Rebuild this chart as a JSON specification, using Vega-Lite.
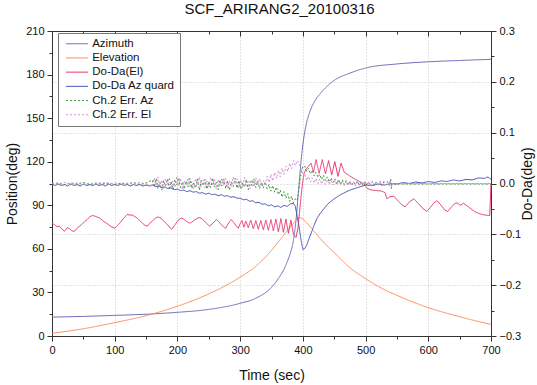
{
"$schema":"https://vega.github.io/schema/vega-lite/v6.json",
"width":439,"height":305,
"autosize":"none",
"padding":{"left":52,"top":31,"right":46,"bottom":49},
"title":{"text":"SCF_ARIRANG2_20100316","fontSize":15,"fontWeight":"normal","font":"Liberation Sans","color":"#111","offset":8,"dx":8},
"datasets":{
"az":[{"t":0,"v":13},{"t":50,"v":13.5},{"t":100,"v":14.2},{"t":150,"v":15},{"t":200,"v":16.3},{"t":250,"v":18.3},{"t":300,"v":22.5},{"t":325,"v":26},{"t":350,"v":33.5},{"t":360,"v":39},{"t":370,"v":46},{"t":375,"v":51},{"t":380,"v":57},{"t":385,"v":66},{"t":390,"v":84},{"t":393,"v":100},{"t":395,"v":110},{"t":398,"v":124},{"t":401,"v":135},{"t":405,"v":145},{"t":410,"v":153},{"t":415,"v":158.5},{"t":420,"v":162.5},{"t":430,"v":168},{"t":440,"v":172.5},{"t":450,"v":176},{"t":475,"v":181},{"t":500,"v":184.5},{"t":550,"v":187.3},{"t":600,"v":188.8},{"t":650,"v":189.7},{"t":700,"v":190.5}],
"el":[{"t":0,"v":1.8},{"t":50,"v":5},{"t":100,"v":9.2},{"t":150,"v":14},{"t":200,"v":20.5},{"t":250,"v":29},{"t":300,"v":40.5},{"t":325,"v":48},{"t":350,"v":59},{"t":365,"v":67},{"t":375,"v":72.5},{"t":385,"v":77.5},{"t":390,"v":80},{"t":395,"v":81.5},{"t":400,"v":80.5},{"t":410,"v":76},{"t":420,"v":71},{"t":430,"v":66},{"t":440,"v":61.5},{"t":450,"v":57.5},{"t":475,"v":47},{"t":500,"v":39.5},{"t":525,"v":33},{"t":550,"v":28},{"t":575,"v":23.5},{"t":600,"v":19.5},{"t":625,"v":16.2},{"t":650,"v":13.3},{"t":675,"v":10.5},{"t":700,"v":8}],
"dd":[{"t":0,"v":-0.078},{"t":4,"v":-0.081},{"t":8,"v":-0.085},{"t":12,"v":-0.084},{"t":16,"v":-0.09},{"t":20,"v":-0.094},{"t":24,"v":-0.087},{"t":28,"v":-0.089},{"t":32,"v":-0.093},{"t":36,"v":-0.094},{"t":40,"v":-0.088},{"t":44,"v":-0.084},{"t":48,"v":-0.08},{"t":52,"v":-0.075},{"t":56,"v":-0.071},{"t":60,"v":-0.066},{"t":64,"v":-0.063},{"t":68,"v":-0.064},{"t":72,"v":-0.066},{"t":76,"v":-0.068},{"t":80,"v":-0.072},{"t":84,"v":-0.076},{"t":88,"v":-0.079},{"t":92,"v":-0.083},{"t":96,"v":-0.086},{"t":100,"v":-0.088},{"t":104,"v":-0.083},{"t":108,"v":-0.078},{"t":112,"v":-0.072},{"t":116,"v":-0.066},{"t":120,"v":-0.061},{"t":124,"v":-0.062},{"t":128,"v":-0.062},{"t":132,"v":-0.065},{"t":136,"v":-0.068},{"t":140,"v":-0.073},{"t":144,"v":-0.078},{"t":148,"v":-0.082},{"t":152,"v":-0.084},{"t":156,"v":-0.078},{"t":160,"v":-0.074},{"t":164,"v":-0.069},{"t":168,"v":-0.066},{"t":172,"v":-0.067},{"t":176,"v":-0.071},{"t":180,"v":-0.076},{"t":184,"v":-0.081},{"t":188,"v":-0.087},{"t":191,"v":-0.09},{"t":195,"v":-0.083},{"t":199,"v":-0.076},{"t":203,"v":-0.07},{"t":207,"v":-0.068},{"t":211,"v":-0.071},{"t":215,"v":-0.075},{"t":219,"v":-0.078},{"t":223,"v":-0.076},{"t":227,"v":-0.072},{"t":231,"v":-0.069},{"t":235,"v":-0.067},{"t":239,"v":-0.069},{"t":243,"v":-0.074},{"t":247,"v":-0.079},{"t":251,"v":-0.084},{"t":255,"v":-0.08},{"t":259,"v":-0.075},{"t":262,"v":-0.071},{"t":266,"v":-0.075},{"t":270,"v":-0.081},{"t":274,"v":-0.086},{"t":277,"v":-0.088},{"t":280,"v":-0.081},{"t":283,"v":-0.075},{"t":286,"v":-0.071},{"t":290,"v":-0.077},{"t":294,"v":-0.084},{"t":297,"v":-0.088},{"t":300,"v":-0.079},{"t":303,"v":-0.073},{"t":306,"v":-0.086},{"t":309,"v":-0.074},{"t":313,"v":-0.087},{"t":317,"v":-0.072},{"t":321,"v":-0.089},{"t":325,"v":-0.073},{"t":329,"v":-0.09},{"t":333,"v":-0.073},{"t":337,"v":-0.091},{"t":341,"v":-0.072},{"t":345,"v":-0.092},{"t":349,"v":-0.071},{"t":353,"v":-0.093},{"t":357,"v":-0.07},{"t":361,"v":-0.095},{"t":365,"v":-0.069},{"t":369,"v":-0.096},{"t":373,"v":-0.07},{"t":377,"v":-0.098},{"t":381,"v":-0.072},{"t":385,"v":-0.1},{"t":389,"v":-0.106},{"t":392,"v":-0.09},{"t":394,"v":-0.065},{"t":396,"v":-0.04},{"t":398,"v":-0.015},{"t":400,"v":0.005},{"t":402,"v":0.02},{"t":405,"v":0.028},{"t":409,"v":0.034},{"t":413,"v":0.04},{"t":417,"v":0.022},{"t":421,"v":0.047},{"t":426,"v":0.02},{"t":431,"v":0.047},{"t":436,"v":0.019},{"t":441,"v":0.045},{"t":446,"v":0.017},{"t":451,"v":0.043},{"t":456,"v":0.014},{"t":461,"v":0.04},{"t":466,"v":0.022},{"t":471,"v":0.018},{"t":477,"v":0.013},{"t":483,"v":0.009},{"t":490,"v":0.004},{"t":497,"v":0.0},{"t":503,"v":-0.01},{"t":510,"v":-0.013},{"t":518,"v":-0.014},{"t":526,"v":-0.015},{"t":531,"v":-0.018},{"t":534,"v":-0.03},{"t":539,"v":-0.026},{"t":545,"v":-0.025},{"t":551,"v":-0.033},{"t":557,"v":-0.041},{"t":563,"v":-0.046},{"t":570,"v":-0.036},{"t":577,"v":-0.03},{"t":584,"v":-0.039},{"t":591,"v":-0.049},{"t":598,"v":-0.055},{"t":604,"v":-0.046},{"t":609,"v":-0.038},{"t":614,"v":-0.034},{"t":620,"v":-0.042},{"t":626,"v":-0.052},{"t":631,"v":-0.055},{"t":637,"v":-0.046},{"t":642,"v":-0.04},{"t":646,"v":-0.038},{"t":651,"v":-0.043},{"t":656,"v":-0.039},{"t":662,"v":-0.044},{"t":668,"v":-0.05},{"t":675,"v":-0.056},{"t":683,"v":-0.06},{"t":690,"v":-0.062},{"t":698,"v":-0.063},{"t":700,"v":0.0}],
"dq":[{"t":0,"v":-0.001},{"t":5,"v":-0.004},{"t":10,"v":-0.001},{"t":15,"v":-0.004},{"t":20,"v":-0.002},{"t":25,"v":-0.005},{"t":30,"v":-0.001},{"t":35,"v":-0.004},{"t":40,"v":-0.002},{"t":45,"v":-0.005},{"t":50,"v":-0.001},{"t":55,"v":-0.004},{"t":60,"v":-0.002},{"t":65,"v":-0.004},{"t":70,"v":-0.001},{"t":75,"v":-0.004},{"t":80,"v":-0.002},{"t":85,"v":-0.005},{"t":90,"v":-0.001},{"t":95,"v":-0.004},{"t":100,"v":-0.002},{"t":105,"v":-0.004},{"t":110,"v":-0.001},{"t":115,"v":-0.004},{"t":120,"v":-0.002},{"t":125,"v":-0.005},{"t":130,"v":-0.002},{"t":135,"v":-0.004},{"t":140,"v":-0.002},{"t":145,"v":-0.005},{"t":150,"v":-0.003},{"t":155,"v":-0.005},{"t":160,"v":-0.003},{"t":165,"v":-0.006},{"t":170,"v":-0.005},{"t":175,"v":-0.008},{"t":180,"v":-0.007},{"t":185,"v":-0.01},{"t":190,"v":-0.009},{"t":195,"v":-0.012},{"t":200,"v":-0.011},{"t":205,"v":-0.014},{"t":210,"v":-0.013},{"t":215,"v":-0.016},{"t":220,"v":-0.014},{"t":225,"v":-0.017},{"t":230,"v":-0.016},{"t":235,"v":-0.019},{"t":240,"v":-0.018},{"t":245,"v":-0.021},{"t":250,"v":-0.019},{"t":255,"v":-0.022},{"t":260,"v":-0.021},{"t":265,"v":-0.024},{"t":270,"v":-0.022},{"t":275,"v":-0.025},{"t":280,"v":-0.024},{"t":285,"v":-0.027},{"t":290,"v":-0.026},{"t":295,"v":-0.029},{"t":300,"v":-0.029},{"t":305,"v":-0.032},{"t":310,"v":-0.031},{"t":315,"v":-0.035},{"t":320,"v":-0.034},{"t":325,"v":-0.038},{"t":330,"v":-0.037},{"t":335,"v":-0.041},{"t":340,"v":-0.04},{"t":345,"v":-0.044},{"t":350,"v":-0.042},{"t":355,"v":-0.046},{"t":360,"v":-0.044},{"t":365,"v":-0.047},{"t":370,"v":-0.043},{"t":375,"v":-0.045},{"t":380,"v":-0.04},{"t":385,"v":-0.039},{"t":388,"v":-0.045},{"t":391,"v":-0.065},{"t":394,"v":-0.085},{"t":397,"v":-0.11},{"t":400,"v":-0.13},{"t":403,"v":-0.128},{"t":406,"v":-0.122},{"t":410,"v":-0.108},{"t":414,"v":-0.095},{"t":418,"v":-0.082},{"t":422,"v":-0.07},{"t":427,"v":-0.06},{"t":432,"v":-0.052},{"t":440,"v":-0.04},{"t":449,"v":-0.031},{"t":460,"v":-0.022},{"t":475,"v":-0.013},{"t":490,"v":-0.007},{"t":500,"v":-0.003},{"t":510,"v":-0.004},{"t":520,"v":-0.001},{"t":530,"v":-0.003},{"t":540,"v":0.0},{"t":550,"v":-0.001},{"t":560,"v":0.002},{"t":570,"v":0.0},{"t":580,"v":0.003},{"t":590,"v":0.001},{"t":600,"v":0.004},{"t":610,"v":0.002},{"t":620,"v":0.005},{"t":630,"v":0.004},{"t":640,"v":0.007},{"t":650,"v":0.005},{"t":660,"v":0.008},{"t":670,"v":0.007},{"t":680,"v":0.011},{"t":690,"v":0.01},{"t":695,"v":0.013},{"t":700,"v":0.008}],
"g":[{"t":0,"v":-0.001},{"t":10,"v":0.001},{"t":20,"v":-0.002},{"t":30,"v":0.001},{"t":40,"v":-0.001},{"t":50,"v":0.002},{"t":60,"v":-0.002},{"t":70,"v":0.001},{"t":80,"v":-0.001},{"t":90,"v":0.001},{"t":100,"v":-0.002},{"t":110,"v":0.001},{"t":120,"v":-0.001},{"t":130,"v":0.002},{"t":140,"v":-0.002},{"t":150,"v":0.001},{"t":160,"v":0.007},{"t":163,"v":-0.007},{"t":166,"v":0.01},{"t":169,"v":-0.01},{"t":172,"v":0.002},{"t":175,"v":-0.013},{"t":178,"v":0.006},{"t":181,"v":-0.005},{"t":184,"v":0.009},{"t":187,"v":-0.009},{"t":190,"v":0.004},{"t":193,"v":-0.012},{"t":196,"v":0.008},{"t":199,"v":-0.003},{"t":202,"v":0.011},{"t":205,"v":-0.008},{"t":208,"v":0.003},{"t":211,"v":-0.011},{"t":214,"v":0.005},{"t":217,"v":-0.006},{"t":220,"v":0.01},{"t":223,"v":-0.01},{"t":226,"v":0.001},{"t":229,"v":-0.009},{"t":232,"v":0.009},{"t":235,"v":-0.013},{"t":238,"v":0.006},{"t":241,"v":-0.004},{"t":244,"v":0.008},{"t":247,"v":-0.011},{"t":250,"v":0.004},{"t":253,"v":-0.008},{"t":256,"v":0.011},{"t":259,"v":-0.007},{"t":262,"v":0.002},{"t":265,"v":-0.012},{"t":268,"v":0.007},{"t":271,"v":-0.005},{"t":274,"v":0.009},{"t":277,"v":-0.01},{"t":280,"v":0.005},{"t":283,"v":-0.013},{"t":286,"v":0.003},{"t":289,"v":-0.006},{"t":292,"v":0.01},{"t":295,"v":-0.009},{"t":298,"v":0.006},{"t":301,"v":-0.011},{"t":304,"v":0.001},{"t":307,"v":-0.007},{"t":310,"v":0.008},{"t":313,"v":-0.012},{"t":316,"v":0.004},{"t":319,"v":-0.004},{"t":322,"v":0.009},{"t":325,"v":-0.008},{"t":328,"v":0.005},{"t":331,"v":-0.01},{"t":334,"v":0.002},{"t":337,"v":-0.009},{"t":340,"v":0.003},{"t":343,"v":-0.01},{"t":346,"v":-0.002},{"t":349,"v":-0.015},{"t":352,"v":-0.004},{"t":355,"v":-0.017},{"t":358,"v":-0.007},{"t":361,"v":-0.022},{"t":364,"v":-0.013},{"t":367,"v":-0.027},{"t":370,"v":-0.016},{"t":373,"v":-0.029},{"t":376,"v":-0.02},{"t":379,"v":-0.035},{"t":382,"v":-0.025},{"t":385,"v":-0.038},{"t":388,"v":-0.03},{"t":391,"v":-0.033},{"t":394,"v":-0.01},{"t":397,"v":0.02},{"t":400,"v":0.034},{"t":403,"v":0.034},{"t":406,"v":0.024},{"t":409,"v":0.03},{"t":412,"v":0.019},{"t":415,"v":0.026},{"t":418,"v":0.015},{"t":421,"v":0.022},{"t":424,"v":0.012},{"t":427,"v":0.018},{"t":430,"v":0.008},{"t":433,"v":0.016},{"t":436,"v":0.006},{"t":439,"v":0.013},{"t":442,"v":0.003},{"t":445,"v":0.011},{"t":448,"v":0.002},{"t":451,"v":0.009},{"t":454,"v":-0.001},{"t":457,"v":0.008},{"t":460,"v":-0.001},{"t":463,"v":0.007},{"t":466,"v":-0.002},{"t":469,"v":0.006},{"t":472,"v":-0.003},{"t":475,"v":0.004},{"t":478,"v":-0.004},{"t":481,"v":0.003},{"t":484,"v":-0.002},{"t":487,"v":0.005},{"t":490,"v":-0.004},{"t":493,"v":0.002},{"t":496,"v":-0.003},{"t":499,"v":0.004},{"t":502,"v":-0.004},{"t":505,"v":0.003},{"t":508,"v":-0.002},{"t":511,"v":0.004},{"t":514,"v":-0.004},{"t":517,"v":0.002},{"t":520,"v":-0.003},{"t":523,"v":0.004},{"t":526,"v":-0.004},{"t":529,"v":0.003},{"t":532,"v":-0.003},{"t":535,"v":0.004},{"t":538,"v":-0.004},{"t":540,"v":0.009},{"t":541,"v":-0.01},{"t":542,"v":-0.001},{"t":560,"v":-0.001},{"t":600,"v":-0.001},{"t":650,"v":-0.001},{"t":700,"v":-0.001}],
"p":[{"t":0,"v":0.001},{"t":10,"v":-0.001},{"t":20,"v":0.002},{"t":30,"v":-0.001},{"t":40,"v":0.001},{"t":50,"v":-0.002},{"t":60,"v":0.001},{"t":70,"v":-0.001},{"t":80,"v":0.002},{"t":90,"v":-0.001},{"t":100,"v":0.001},{"t":110,"v":-0.002},{"t":120,"v":0.001},{"t":130,"v":-0.001},{"t":140,"v":0.002},{"t":150,"v":-0.001},{"t":160,"v":-0.006},{"t":163,"v":0.011},{"t":166,"v":-0.004},{"t":169,"v":0.013},{"t":172,"v":-0.008},{"t":175,"v":0.007},{"t":178,"v":-0.01},{"t":181,"v":0.009},{"t":184,"v":-0.002},{"t":187,"v":0.012},{"t":190,"v":-0.009},{"t":193,"v":0.005},{"t":196,"v":-0.007},{"t":199,"v":0.013},{"t":202,"v":-0.005},{"t":205,"v":0.01},{"t":208,"v":-0.011},{"t":211,"v":0.006},{"t":214,"v":-0.003},{"t":217,"v":0.011},{"t":220,"v":-0.006},{"t":223,"v":0.004},{"t":226,"v":-0.01},{"t":229,"v":0.01},{"t":232,"v":-0.004},{"t":235,"v":0.013},{"t":238,"v":-0.007},{"t":241,"v":0.007},{"t":244,"v":-0.009},{"t":247,"v":0.005},{"t":250,"v":-0.008},{"t":253,"v":0.012},{"t":256,"v":-0.002},{"t":259,"v":0.009},{"t":262,"v":-0.011},{"t":265,"v":0.008},{"t":268,"v":-0.005},{"t":271,"v":0.011},{"t":274,"v":-0.003},{"t":277,"v":0.01},{"t":280,"v":-0.01},{"t":283,"v":0.006},{"t":286,"v":-0.006},{"t":289,"v":0.013},{"t":292,"v":-0.001},{"t":295,"v":0.009},{"t":298,"v":-0.009},{"t":301,"v":0.007},{"t":304,"v":-0.008},{"t":307,"v":0.012},{"t":310,"v":-0.004},{"t":313,"v":0.004},{"t":316,"v":-0.011},{"t":319,"v":0.008},{"t":322,"v":-0.007},{"t":325,"v":0.011},{"t":328,"v":-0.003},{"t":331,"v":0.01},{"t":334,"v":-0.005},{"t":337,"v":0.006},{"t":340,"v":-0.002},{"t":343,"v":0.014},{"t":346,"v":0.002},{"t":349,"v":0.018},{"t":352,"v":0.005},{"t":355,"v":0.022},{"t":358,"v":0.01},{"t":361,"v":0.026},{"t":364,"v":0.013},{"t":367,"v":0.03},{"t":370,"v":0.018},{"t":373,"v":0.034},{"t":376,"v":0.024},{"t":379,"v":0.04},{"t":382,"v":0.029},{"t":385,"v":0.045},{"t":388,"v":0.035},{"t":391,"v":0.045},{"t":394,"v":0.04},{"t":397,"v":0.03},{"t":400,"v":0.02},{"t":403,"v":0.018},{"t":406,"v":0.006},{"t":409,"v":0.014},{"t":412,"v":0.003},{"t":415,"v":0.011},{"t":418,"v":0.001},{"t":421,"v":0.01},{"t":424,"v":0.0},{"t":427,"v":0.009},{"t":430,"v":-0.001},{"t":433,"v":0.008},{"t":436,"v":-0.002},{"t":439,"v":0.007},{"t":442,"v":-0.002},{"t":445,"v":0.006},{"t":448,"v":-0.003},{"t":451,"v":0.006},{"t":454,"v":-0.003},{"t":457,"v":0.005},{"t":460,"v":-0.003},{"t":463,"v":0.005},{"t":466,"v":-0.004},{"t":469,"v":0.005},{"t":472,"v":-0.004},{"t":475,"v":0.005},{"t":478,"v":-0.003},{"t":481,"v":0.004},{"t":484,"v":-0.005},{"t":487,"v":0.003},{"t":490,"v":-0.004},{"t":493,"v":0.005},{"t":496,"v":-0.003},{"t":499,"v":0.004},{"t":502,"v":-0.005},{"t":505,"v":0.003},{"t":508,"v":-0.004},{"t":511,"v":0.005},{"t":514,"v":-0.003},{"t":517,"v":0.004},{"t":520,"v":-0.005},{"t":523,"v":0.003},{"t":526,"v":-0.004},{"t":529,"v":0.005},{"t":532,"v":-0.003},{"t":535,"v":0.004},{"t":538,"v":-0.004},{"t":540,"v":0.008},{"t":541,"v":-0.008},{"t":542,"v":0.0},{"t":560,"v":0.0},{"t":600,"v":0.0},{"t":650,"v":0.0},{"t":700,"v":0.0}]
},
"layer":[
{"encoding":{
 "x":{"field":"t","type":"quantitative","scale":{"domain":[0,700],"nice":false,"zero":false},
  "axis":{"title":"Time (sec)","orient":"bottom","values":[0,50,100,150,200,250,300,350,400,450,500,550,600,650,700],"labelExpr":"datum.value % 100 === 0 ? datum.label : ''","labelOverlap":false,"labelFlush":false,"tickSize":{"condition":{"test":"datum.value % 100 === 0","value":5},"value":3},"labelPadding":3,"titlePadding":13,"grid":true,"gridOpacity":{"condition":{"test":"datum.value % 100 === 0 && datum.value > 0 && datum.value < 700","value":1},"value":0}}},
 "y":{"field":"v","type":"quantitative","scale":{"domain":[0,210],"nice":false,"zero":false},
  "axis":{"title":"Position(deg)","orient":"left","values":[0,15,30,45,60,75,90,105,120,135,150,165,180,195,210],"labelExpr":"datum.value % 30 === 0 ? datum.label : ''","labelOverlap":false,"labelFlush":false,"tickSize":{"condition":{"test":"datum.value % 30 === 0","value":5},"value":3},"grid":false,"labelPadding":3,"titlePadding":6}}
 },
 "layer":[
  {"data":{"name":"az"},"mark":{"type":"line","strokeWidth":1,"interpolate":"monotone"},
   "encoding":{"color":{"datum":"Azimuth","type":"nominal","scale":{"domain":["Azimuth","Elevation","Do-Da(El)","Do-Da Az quard","Ch.2 Err. Az","Ch.2 Err. El"],"range":["#6f6fb8","#ff8a5c","#e8336e","#4650b2","#3d8f3d","#d68ad6"]},
     "legend":{"title":null,"orient":"none","legendX":6,"legendY":2,"strokeColor":"#777","fillColor":"#ffffff","padding":5,"labelFontSize":11.5,"labelFont":"Liberation Sans","labelColor":"#111","symbolType":"M-2.2,0H2.2","symbolSize":100,"symbolStrokeWidth":1,"rowPadding":1.2,"labelOffset":9.5,"symbolOffset":8.2}},
    "strokeDash":{"datum":"Azimuth","type":"nominal","scale":{"domain":["Azimuth","Elevation","Do-Da(El)","Do-Da Az quard","Ch.2 Err. Az","Ch.2 Err. El"],"range":[[1,0],[1,0],[1,0],[1,0],[2,2],[2,2]]},
     "legend":{"title":null,"orient":"none","legendX":6,"legendY":2,"symbolType":"M-2.2,0H2.2","symbolSize":100}}}},
  {"data":{"name":"el"},"mark":{"type":"line","strokeWidth":1,"interpolate":"monotone"},
   "encoding":{"color":{"datum":"Elevation","type":"nominal"},"strokeDash":{"datum":"Elevation","type":"nominal"}}}
 ]},
{"encoding":{
 "x":{"field":"t","type":"quantitative",
  "axis":{"title":null,"orient":"top","labels":false,"values":[0,50,100,150,200,250,300,350,400,450,500,550,600,650,700],"tickSize":{"condition":{"test":"datum.value % 100 === 0","value":-5},"value":-3},"grid":false}},
 "y":{"field":"v","type":"quantitative","scale":{"domain":[-0.3,0.3],"nice":false,"zero":false},
  "axis":{"title":"Do-Da(deg)","orient":"right","values":[-0.3,-0.25,-0.2,-0.15,-0.1,-0.05,0,0.05,0.1,0.15,0.2,0.25,0.3],"format":".1f","labelExpr":"abs(round(datum.value*20)) % 2 === 0 ? datum.label : ''","labelOverlap":false,"labelFlush":false,"tickSize":{"condition":{"test":"abs(round(datum.value*20)) % 2 === 0","value":5},"value":3},"grid":true,"gridOpacity":{"condition":{"test":"abs(round(datum.value*20)) % 2 === 0","value":1},"value":0},"titleAngle":270,"titleBaseline":"top","labelPadding":3,"titlePadding":0}}
 },
 "layer":[
  {"data":{"name":"dd"},"mark":{"type":"line","strokeWidth":1},"encoding":{"color":{"datum":"Do-Da(El)","type":"nominal"},"strokeDash":{"datum":"Do-Da(El)","type":"nominal"}}},
  {"data":{"name":"dq"},"mark":{"type":"line","strokeWidth":1},"encoding":{"color":{"datum":"Do-Da Az quard","type":"nominal"},"strokeDash":{"datum":"Do-Da Az quard","type":"nominal"}}},
  {"data":{"name":"g"},"mark":{"type":"line","strokeWidth":1},"encoding":{"color":{"datum":"Ch.2 Err. Az","type":"nominal"},"strokeDash":{"datum":"Ch.2 Err. Az","type":"nominal"}}},
  {"data":{"name":"p"},"mark":{"type":"line","strokeWidth":1},"encoding":{"color":{"datum":"Ch.2 Err. El","type":"nominal"},"strokeDash":{"datum":"Ch.2 Err. El","type":"nominal"}}}
 ]}
],
"resolve":{"scale":{"y":"independent"},"axis":{"x":"independent","y":"independent"}},
"config":{
 "font":"Liberation Sans",
 "view":{"stroke":"#333","strokeWidth":1},
 "axis":{"labelFontSize":11,"labelColor":"#111","labelFont":"Liberation Sans","titleFont":"Liberation Sans","titleFontSize":14,"titleFontWeight":"normal","titleColor":"#111","domainColor":"#333","tickColor":"#333","gridColor":"#c8c8c8","gridDash":[1,2]}
}
}
